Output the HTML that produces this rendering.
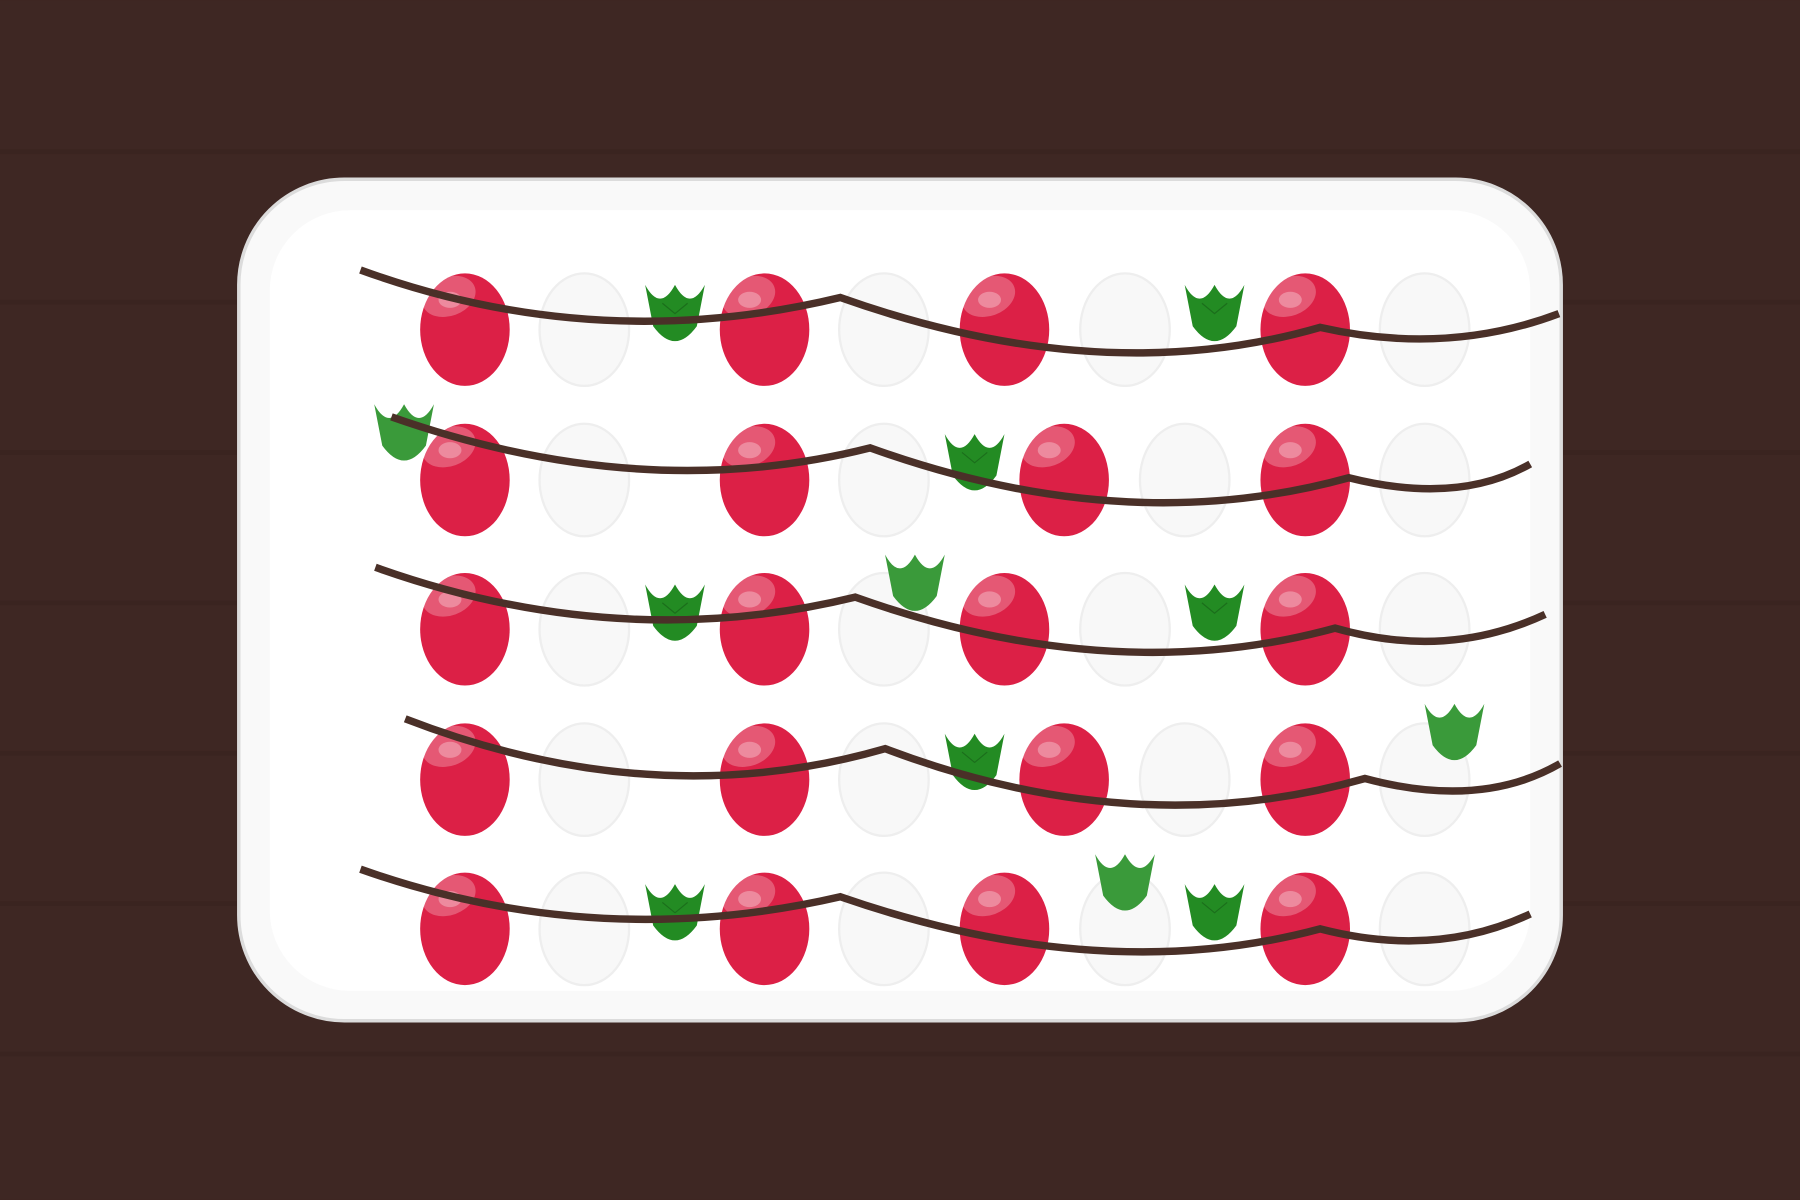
<!DOCTYPE html>
<html><head><meta charset="utf-8">
<style>html,body{margin:0;padding:0;background:#3e2723;}svg{display:block}</style>
</head><body>
<svg id="s" width="1800" height="1200" viewBox="0 0 1568 1045" xmlns="http://www.w3.org/2000/svg">
<rect x="0" y="0" width="1568" height="1045" fill="#3e2723"/>
<g id="stripes"></g>
<rect x="208" y="156" width="1152" height="733" rx="92" fill="#f9f9f9" stroke="#dcdcdc" stroke-width="3"/>
<rect x="235" y="183" width="1098" height="680" rx="70" fill="#ffffff"/>
<g id="slots"></g>
<g id="leaves"></g>
<g id="vines"></g>
</svg>
<script>
const rowsY=[287,418,548,679,809];
const rowPattern=[
 "RE_RERE_RE",
 "RE_RE_RERE",
 "RE_RERE_RE",
 "RE_RE_RERE",
 "RE_RERE_RE"];
const leafPos=[[588,248,0],[1058,248,0],[352,352,1],[849,378,0],[588,509,0],[797,483,1],[1058,509,0],[849,639,0],[1267,613,1],[588,770,0],[980,744,1],[1058,770,0]];
const vinePaths=[
 [[314,235],[520,310],[732,259],[960,340],[1150,285],[1260,310],[1358,273]],
 [[341,363],[560,440],[758,390],[980,470],[1175,416],[1270,440],[1333,404]],
 [[327,494],[540,570],[745,520],[970,600],[1163,547],[1260,575],[1346,535]],
 [[353,626],[570,710],[771,652],[990,735],[1189,678],[1290,705],[1359,665]],
 [[314,757],[520,830],[732,781],[960,860],[1150,809],[1250,835],[1333,796]]];
const NS="http://www.w3.org/2000/svg";
function mk(t,a,p){const e=document.createElementNS(NS,t);for(const k in a)e.setAttribute(k,a[k]);p.appendChild(e);return e;}
const st=document.getElementById('stripes');
[132,263,394,525,656,787,918].forEach(y=>{const r=mk('rect',{x:0,y:y-2,width:1568,height:4,fill:'#3a2420'},st);

});
const sl=document.getElementById('slots');
rowsY.forEach((y,ri)=>{
 const pat=rowPattern[ri];
 const cols=ri%2===0?[405,509,588,666,770,875,980,1058,1137,1241]:[405,509,588,666,770,849,927,1032,1137,1241];
 for(let i=0;i<pat.length;i++){
  const c=pat[i],x=cols[i];
  if(c==='E'){const e=mk('ellipse',{cx:x,cy:y,rx:39,ry:49,fill:'#f8f8f8',stroke:'#eeeeee','stroke-width':2},sl);
   
   }
  else if(c==='R'){const g=mk('g',{},sl);
   
   
   mk('ellipse',{cx:x,cy:y,rx:39,ry:49,fill:'#dc2046'},g);
   mk('ellipse',{cx:x-14,cy:y-29,rx:24,ry:17,fill:'#ffffff',opacity:0.25,transform:`rotate(-20 ${x-14} ${y-29})`},g);
   mk('ellipse',{cx:x-13,cy:y-26,rx:10,ry:7,fill:'#ffffff',opacity:0.3},g);}
 }
});
const lv=document.getElementById('leaves');
leafPos.forEach(([x,y,light])=>{
 const p=mk('path',{d:`M${x-26},${y} Q${x-13},${y+24} ${x},${y} Q${x+13},${y+24} ${x+26},${y} L${x+19},${y+36} Q${x},${y+62} ${x-19},${y+36} Z`,fill:light?'#3a9a3a':'#238b23'},lv);
 
 
 if(!light)mk('path',{d:`M${x-11},${y+16} L${x},${y+25} L${x+11},${y+16}`,fill:'none',stroke:'#1b6e1b','stroke-width':1},lv);
});
const vg=document.getElementById('vines');
vinePaths.forEach(pts=>{
 let d=`M${pts[0][0]},${pts[0][1]}`;
 for(let i=1;i+1<pts.length;i+=2)d+=` Q${pts[i][0]},${pts[i][1]} ${pts[i+1][0]},${pts[i+1][1]}`;
 const p=mk('path',{d,fill:'none',stroke:'#4a3028','stroke-width':6.5,'stroke-linejoin':'miter'},vg);
 
 
});
</script>
</body></html>
